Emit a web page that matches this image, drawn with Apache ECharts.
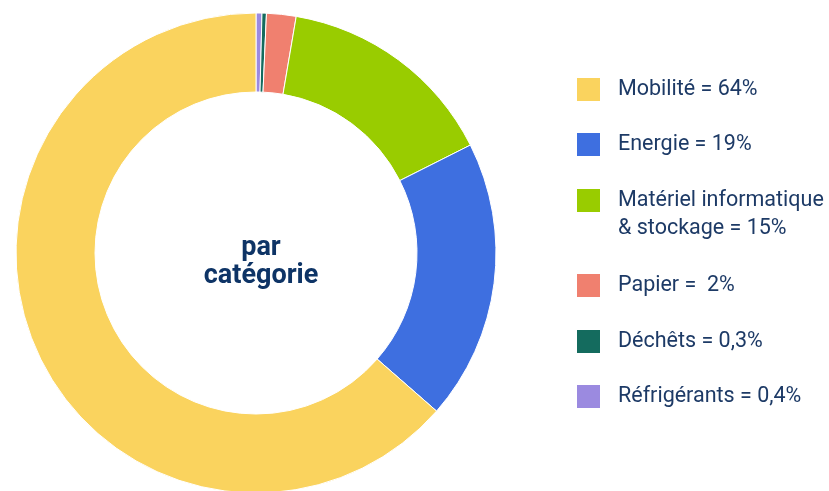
<!DOCTYPE html>
<html>
<head>
<meta charset="utf-8">
<script src="https://cdn.jsdelivr.net/npm/echarts@6/dist/echarts.min.js"></script>
<style>html,body{margin:0;padding:0;background:#fff}#c{width:829px;height:491px}</style>
</head>
<body>
<div id="c"></div>
<script>
// Data (clockwise from 12 o'clock)
const categories = ['Réfrigérants', 'Déchêts', 'Papier', 'Matériel informatique', 'Energie', 'Mobilité'];
const values = [0.4, 0.3, 2, 15, 19, 64];
const valueLabels = ['0,4%', '0,3%', ' 2%', '15%', '19%', '64%'];
const colors = ['#9b8ae0', '#146b5e', '#f0806f', '#99cc00', '#3e6fe0', '#fad35e'];
// Legend order (top to bottom)
const legendOrder = ['Mobilité', 'Energie', 'Matériel informatique', 'Papier', 'Déchêts', 'Réfrigérants'];
const centerLabel = 'par\ncatégorie';

const legendIconCenters = [89.5, 144.5, 200.5, 285.5, 341.5, 396.5];
const textColor = '#1d3a66';

function labelFor(name) {
  const i = categories.indexOf(name);
  if (name === 'Matériel informatique') return '\nMatériel informatique\n& stockage = ' + valueLabels[i];
  return name + ' = ' + valueLabels[i];
}

const legends = legendOrder.map((name, k) => {
  const multi = name === 'Matériel informatique';
  return {
    data: [name],
    orient: 'vertical',
    left: 577,
    top: multi ? legendIconCenters[k] - 42 : legendIconCenters[k] - 11.5,
    padding: 0,
    itemWidth: 23,
    itemHeight: 23,
    icon: 'rect',
    selectedMode: false,
    formatter: labelFor,
    textStyle: {
      fontFamily: 'Roboto',
      fontSize: 21.5,
      color: textColor,
      lineHeight: multi ? 28 : 23,
      padding: [0, 0, 0, 13]
    },
    itemStyle: { borderWidth: 0 }
  };
});

const chart = echarts.init(document.getElementById('c'), null, { renderer: 'canvas' });
chart.setOption({
  animation: false,
  color: colors,
  title: {
    text: centerLabel,
    left: 256,
    top: 229,
    textAlign: 'center',
    textStyle: { fontFamily: 'Roboto', fontWeight: 'bold', fontSize: 27, lineHeight: 28, color: '#0e3466' }
  },
  legend: legends,
  series: [{
    type: 'pie',
    center: [256, 253],
    radius: [161, 240],
    startAngle: 90,
    clockwise: true,
    label: { show: false },
    labelLine: { show: false },
    emphasis: { disabled: true },
    itemStyle: { borderColor: '#ffffff', borderWidth: 1 },
    data: categories.map((n, i) => ({ name: n, value: values[i] }))
  }]
});
</script>
</body>
</html>
